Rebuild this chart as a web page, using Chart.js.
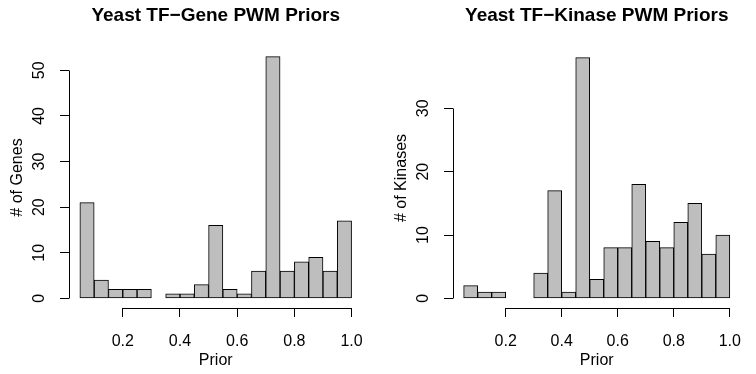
<!DOCTYPE html>
<html lang="en">
<head>
<meta charset="utf-8">
<script src="https://cdn.jsdelivr.net/npm/chart.js@4.4.1/dist/chart.umd.min.js"></script>
<style>
  html, body { margin: 0; padding: 0; background: #fff; overflow: hidden; }
  canvas { position: absolute; top: 0; }
</style>
</head>
<body>
<canvas id="geneChart" width="378" height="374" style="left:0"></canvas>
<canvas id="kinaseChart" width="378" height="374" style="left:378px"></canvas>
<script>
// histogram bins: lower edge of each 0.05-wide bin
const binStarts = [0.05, 0.10, 0.15, 0.20, 0.25, 0.30, 0.35, 0.40, 0.45, 0.50,
                   0.55, 0.60, 0.65, 0.70, 0.75, 0.80, 0.85, 0.90, 0.95];
const binWidth = 0.05;

const geneCounts   = [21, 4, 2, 2, 2, 0, 1, 1, 3, 16, 2, 1, 6, 53, 6, 8, 9, 6, 17];
const kinaseCounts = [2, 1, 1, 0, 0, 4, 17, 1, 38, 3, 8, 8, 18, 9, 8, 12, 15, 7, 10];

const priorTicks  = [0.2, 0.4, 0.6, 0.8, 1.0];
const geneTicks   = [0, 10, 20, 30, 40, 50];
const kinaseTicks = [0, 10, 20, 30];

const FONT = "'Liberation Sans', Arial, Helvetica, sans-serif";
Chart.defaults.font.family = FONT;
Chart.defaults.font.size = 16;
Chart.defaults.color = '#000';

// base-graphics look: axis lines only span first..last tick, title over the plot region
const rAxes = {
  id: 'rAxes',
  afterDraw(chart, args, opts) {
    const { ctx, chartArea } = chart;
    const xs = chart.scales.x, ys = chart.scales.y;
    const align = p => Math.round(p - 0.5) + 0.5;
    ctx.save();
    ctx.strokeStyle = '#000';
    ctx.lineWidth = 1;
    ctx.beginPath();
    const yb = align(chartArea.bottom);
    ctx.moveTo(align(xs.getPixelForValue(xs.ticks[0].value)), yb);
    ctx.lineTo(align(xs.getPixelForValue(xs.ticks[xs.ticks.length - 1].value)), yb);
    const xl = align(chartArea.left);
    ctx.moveTo(xl, align(ys.getPixelForValue(ys.ticks[0].value)));
    ctx.lineTo(xl, align(ys.getPixelForValue(ys.ticks[ys.ticks.length - 1].value)));
    ctx.stroke();

    ctx.fillStyle = '#000';
    ctx.font = 'bold 19px ' + FONT;
    ctx.textAlign = 'center';
    ctx.textBaseline = 'middle';
    ctx.fillText(opts.title, (chartArea.left + chartArea.right) / 2, 16);
    ctx.restore();
  }
};

function makeHist(id, title, yTitle, counts, yTicks, axisWidth, topGap, rightGap) {
  const peak = Math.max(...counts);
  const lo = binStarts[0];
  const hi = binStarts[binStarts.length - 1] + binWidth;
  const xPad = 0.04 * (hi - lo);

  return new Chart(document.getElementById(id), {
    type: 'bar',
    data: {
      datasets: [{
        data: binStarts.map((s, i) => ({ x: s + binWidth / 2, y: counts[i] })),
        backgroundColor: '#bebebe',
        borderColor: '#000',
        borderWidth: 1,
        borderSkipped: false,
        barPercentage: 1,
        categoryPercentage: 1
      }]
    },
    options: {
      responsive: false,
      animation: false,
      layout: { padding: { top: topGap, right: rightGap, left: 0, bottom: 0 } },
      plugins: {
        legend: { display: false },
        tooltip: { enabled: false },
        rAxes: { title: title }
      },
      scales: {
        x: {
          type: 'linear',
          min: lo - xPad,
          max: hi + xPad,
          offset: false,
          afterBuildTicks: s => { s.ticks = priorTicks.map(v => ({ value: v })); },
          afterFit: s => { s.height = 66; },
          border: { display: false },
          grid: { drawOnChartArea: false, offset: false, color: '#000', lineWidth: 1, tickLength: 9 },
          ticks: { padding: 15, maxRotation: 0, autoSkip: false, callback: v => v.toFixed(1) },
          title: { display: true, text: 'Prior', padding: { top: 0, bottom: 4 } }
        },
        y: {
          min: -0.04 * peak,
          max: 1.04 * peak,
          afterBuildTicks: s => { s.ticks = yTicks.map(v => ({ value: v })); },
          afterFit: s => { s.width = axisWidth; },
          border: { display: false },
          grid: { drawOnChartArea: false, color: '#000', lineWidth: 1, tickLength: 9 },
          ticks: { padding: 11.6, minRotation: 90, maxRotation: 90, crossAlign: 'center', autoSkip: false, callback: v => String(v) },
          title: { display: true, text: yTitle, padding: { top: axisWidth - 51 - 9.6, bottom: 0 } }
        }
      }
    },
    plugins: [rAxes]
  });
}

makeHist('geneChart', 'Yeast TF\u2212Gene PWM Priors', '# of Genes', geneCounts, geneTicks, 69, 47, 8);
makeHist('kinaseChart', 'Yeast TF\u2212Kinase PWM Priors', '# of Kinases', kinaseCounts, kinaseTicks, 75, 48, 2);
</script>
</body>
</html>
